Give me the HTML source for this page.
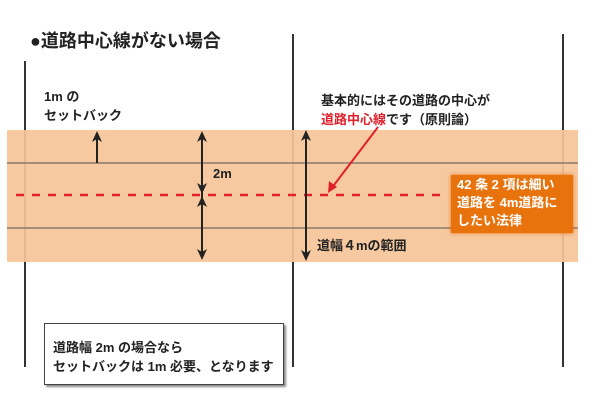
<!DOCTYPE html><html><head><meta charset="utf-8"><style>
body{margin:0;width:600px;height:400px;background:#fff;overflow:hidden;position:relative;font-family:"Liberation Sans","Noto Sans CJK JP",sans-serif;font-weight:bold;color:#222}
.t{position:absolute;white-space:nowrap;font-size:13px;line-height:19px}
</style></head><body>
<svg width="600" height="400" style="position:absolute;left:0;top:0">
<line x1="25" y1="61" x2="25" y2="367" stroke="#333" stroke-width="2"/>
<line x1="293" y1="34" x2="293" y2="367" stroke="#333" stroke-width="2"/>
<line x1="563" y1="34" x2="563" y2="367" stroke="#333" stroke-width="2"/>
<rect x="7" y="130" width="571" height="132" fill="#f6c498" fill-opacity="0.92"/>
<line x1="7" y1="163" x2="578" y2="163" stroke="#8a7a6a" stroke-width="1.5"/>
<line x1="7" y1="228" x2="578" y2="228" stroke="#8a7a6a" stroke-width="1.5"/>
<line x1="16" y1="195" x2="445" y2="195" stroke="#e0202a" stroke-width="2.5" stroke-dasharray="8,8"/>
<g stroke="#222" stroke-width="2">
<line x1="97" y1="163" x2="97" y2="136"/>
<line x1="202" y1="136" x2="202" y2="256"/>
<line x1="306" y1="135" x2="306" y2="256"/>
</g>
<g fill="#222">
<path d="M97,131 L92,142 L97,139 L102,142 Z"/>
<path d="M202,131 L197,142 L202,139 L207,142 Z"/>
<path d="M202,194 L197,183 L202,186 L207,183 Z"/>
<path d="M202,196 L197,207 L202,204 L207,207 Z"/>
<path d="M202,260 L197,249 L202,252 L207,249 Z"/>
<path d="M306,130 L301,141 L306,138 L311,141 Z"/>
<path d="M306,261 L301,250 L306,253 L311,250 Z"/>
</g>
<line x1="378" y1="127" x2="331" y2="189" stroke="#e0202a" stroke-width="2"/>
<path d="M328,193 L329,181 L337,187 Z" fill="#e0202a"/>
</svg>
<div class="t" style="left:30px;top:30px;font-size:18px;line-height:22px">●道路中心線がない場合</div>
<div class="t" style="left:44px;top:87px">1m の<br>セットバック</div>
<div class="t" style="left:213px;top:164px">2m</div>
<div class="t" style="left:321px;top:91px">基本的にはその道路の中心が<br><span style="color:#e0202a">道路中心線</span>です（原則論）</div>
<div class="t" style="left:317px;top:236px">道幅４mの範囲</div>
<div style="position:absolute;left:451px;top:175px;width:122px;height:58px;background:#e8720c;box-shadow:0 0 4px #e8720c"></div>
<div class="t" style="left:457px;top:176px;color:#fff;line-height:18px">42 条 2 項は細い<br>道路を 4m道路に<br>したい法律</div>
<div style="position:absolute;left:44px;top:323px;width:238px;height:60px;border:1.5px solid #444;box-shadow:2px 2px 2px #888;background:#fff"></div>
<div class="t" style="left:53px;top:338px">道路幅 2m の場合なら<br>セットバックは 1m 必要、となります</div>
</body></html>
